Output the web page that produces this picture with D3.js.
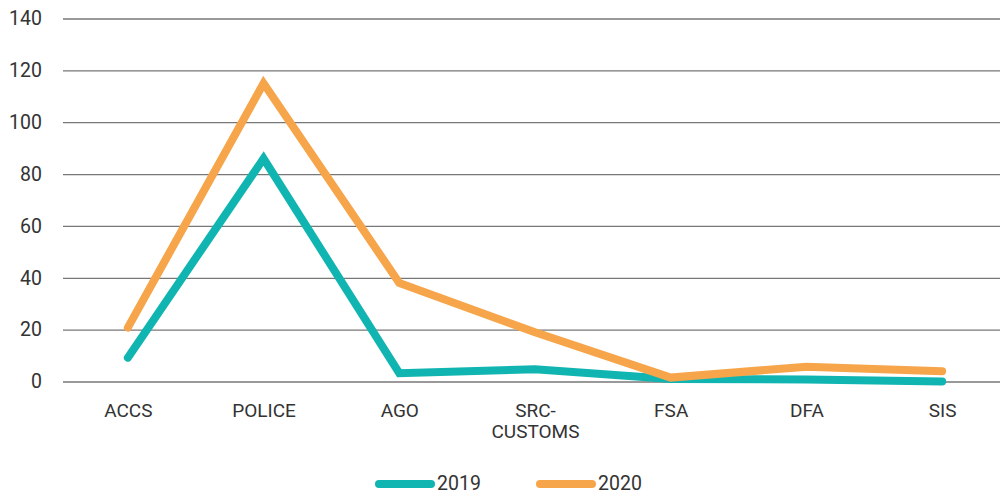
<!DOCTYPE html>
<html><head><meta charset="utf-8">
<script src="https://cdn.jsdelivr.net/npm/d3@7"></script>
<style>body{margin:0;background:#fff;}svg{display:block;font-family:Roboto,sans-serif;}</style>
</head><body>
<svg id="c" width="1000" height="493"></svg>
<script>
const categories = ["ACCS","POLICE","AGO","SRC-\nCUSTOMS","FSA","DFA","SIS"];
const series2019 = [9.2, 86, 3.2, 4.7, 1, 0.8, 0];
const series2020 = [20.8, 115, 38, 19, 1.5, 5.7, 4];
const seriesNames = ["2019","2020"];
const colors = ["#10b5b1","#f7a54a"];
const yTicks = [0,20,40,60,80,100,120,140];

(function(){
const svg = d3.select("#c");
const mLeft = 63, mRight = 1000, mTop = 18.5, mBottom = 381.5;
const x = d3.scalePoint().domain(categories).range([60, 1010]).padding(0.5);
const y = d3.scaleLinear().domain([0,140]).range([mBottom, mTop]);

const yAxis = svg.append("g").attr("transform", `translate(${mLeft},0)`)
  .call(d3.axisLeft(y).tickValues(yTicks).tickSize(-(mRight-mLeft)).tickPadding(22));
yAxis.select(".domain").remove();
yAxis.selectAll("line").attr("stroke","#777").attr("stroke-width",1.3);
yAxis.selectAll("text").attr("fill","#333").style("font-size","19.5px").style("font-family","Roboto,sans-serif").attr("text-anchor","end").attr("x",-21);

const xAxis = svg.append("g").attr("transform", `translate(0,${mBottom})`)
  .call(d3.axisBottom(x).tickSize(0).tickPadding(0));
xAxis.select(".domain").remove();
xAxis.selectAll("text").each(function(d){
  const t = d3.select(this);
  t.text(null).attr("dy",null).attr("y",null).attr("fill","#333").style("font-size","19px").style("font-family","Roboto,sans-serif");
  d.split("\n").forEach((s,i)=>{
    t.append("tspan").attr("x",0).attr("y",35 + i*21.5).text(s);
  });
});

const line = d3.line().x((d,i)=>x(categories[i])).y(d=>y(d));
[series2019, series2020].forEach((s,k)=>{
  svg.append("path").datum(s).attr("d",line).attr("fill","none")
    .attr("stroke",colors[k]).attr("stroke-width",8)
    .attr("stroke-linecap","round").attr("stroke-linejoin","miter");
});

const legX = [379, 540];
seriesNames.forEach((n,k)=>{
  const g = svg.append("g");
  g.append("line").attr("x1",legX[k]).attr("x2",legX[k]+52).attr("y1",484).attr("y2",484)
    .attr("stroke",colors[k]).attr("stroke-width",8).attr("stroke-linecap","round");
  g.append("text").attr("x",legX[k]+58).attr("y",489.5).attr("fill","#333")
    .style("font-size","19.5px").text(n);
});
})();
</script>
</body></html>
